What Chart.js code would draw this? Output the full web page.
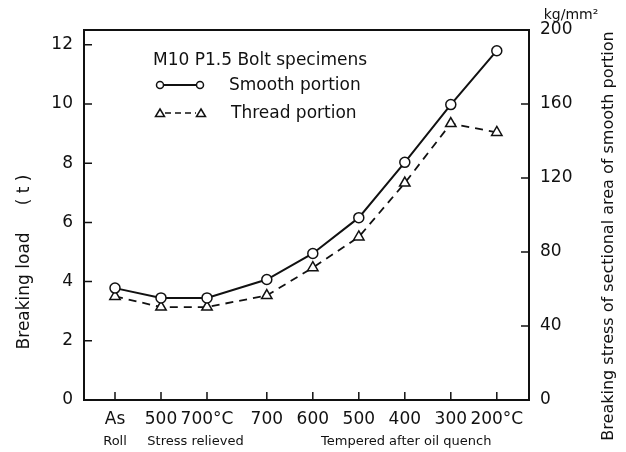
<!DOCTYPE html>
<html>
<head>
<meta charset="utf-8">
<script src="https://cdn.jsdelivr.net/npm/chart.js@4.4.1/dist/chart.umd.min.js"></script>
<style>
    html, body { margin: 0; padding: 0; background: #fff; }
    #wrap { width: 626px; height: 452px; position: relative; }
</style>
</head>
<body>
<div id="wrap"><canvas id="bolt-chart"></canvas></div>
<script>
"use strict";

// ─── Data ────────────────────────────────────────────────────────────────────

const CATEGORIES  = ['As', '500', '700°C', '700', '600', '500', '400', '300', '200°C'];
const X_POSITIONS = [0, 1, 2, 3.3, 4.3, 5.3, 6.3, 7.3, 8.3];   // wider gap between groups
const SMOOTH      = [3.78, 3.45, 3.45, 4.07, 4.95, 6.16, 8.03, 9.98, 11.8];
const THREAD      = [3.50, 3.14, 3.14, 3.53, 4.47, 5.51, 7.33, 9.34, 9.04];
const LOAD_TICKS   = [0, 2, 4, 6, 8, 10, 12];
const STRESS_TICKS = [0, 40, 80, 120, 160, 200];

const GROUPS = [
    { text: 'Roll',                      at: 0    },
    { text: 'Stress relieved',           at: 1.75 },
    { text: 'Tempered after oil quench', at: 6.33 }
];

const FONT = '"DejaVu Sans", sans-serif';
const INK  = '#111';

// ─── Helpers ─────────────────────────────────────────────────────────────────

function _points(ys) {
    return ys.map(function(y, i) { return { x: X_POSITIONS[i], y: y }; });
}

function _fixedTicks(values) {
    return function(scale) {
        scale.ticks = values.map(function(v) { return { value: v }; });
    };
}

// frame, inward ticks, titles and the hand-drawn legend
const decorPlugin = {
    id: 'decor',
    afterDraw: function(chart) {
        var ctx = chart.ctx;
        var a   = chart.chartArea;
        var sx  = chart.scales.x, sy = chart.scales.y, sy1 = chart.scales.y1;

        ctx.save();
        ctx.strokeStyle = INK;
        ctx.lineWidth = 2;
        ctx.strokeRect(a.left, a.top, a.right - a.left, a.bottom - a.top);

        ctx.lineWidth = 1.5;
        ctx.beginPath();
        X_POSITIONS.forEach(function(v) {
            var px = sx.getPixelForValue(v);
            ctx.moveTo(px, a.bottom); ctx.lineTo(px, a.bottom - 8);
        });
        LOAD_TICKS.forEach(function(v) {
            var py = sy.getPixelForValue(v);
            ctx.moveTo(a.left, py); ctx.lineTo(a.left + 8, py);
        });
        STRESS_TICKS.forEach(function(v) {
            var py = sy1.getPixelForValue(v);
            ctx.moveTo(a.right, py); ctx.lineTo(a.right - 8, py);
        });
        ctx.stroke();

        ctx.fillStyle = INK;
        ctx.textAlign = 'center';
        ctx.textBaseline = 'middle';

        // group captions under the x labels
        ctx.font = '13px ' + FONT;
        GROUPS.forEach(function(g) {
            ctx.fillText(g.text, sx.getPixelForValue(g.at), 442);
        });

        // unit above right axis
        ctx.font = '14px ' + FONT;
        ctx.fillText('kg/mm²', 571, 15);

        // axis titles
        ctx.save();
        ctx.translate(25, 262);
        ctx.rotate(-Math.PI / 2);
        ctx.font = '17px ' + FONT;
        ctx.fillText('Breaking load     ( t )', 0, 0);
        ctx.restore();

        ctx.save();
        ctx.translate(609, 236);
        ctx.rotate(-Math.PI / 2);
        ctx.font = '16px ' + FONT;
        ctx.fillText('Breaking stress of sectional area of smooth portion', 0, 0);
        ctx.restore();

        // legend
        ctx.textAlign = 'left';
        ctx.font = '17px ' + FONT;
        ctx.fillText('M10 P1.5 Bolt specimens', 153, 61);
        ctx.fillText('Smooth portion', 229, 86);
        ctx.fillText('Thread portion', 231, 114);

        ctx.lineWidth = 2;
        ctx.beginPath(); ctx.moveTo(160, 85); ctx.lineTo(197, 85); ctx.stroke();
        ctx.lineWidth = 1.5;
        [160, 200].forEach(function(x) {
            ctx.beginPath(); ctx.arc(x, 85, 3.5, 0, Math.PI * 2);
            ctx.fillStyle = '#fff'; ctx.fill(); ctx.stroke();
        });
        ctx.setLineDash([6, 4]);
        ctx.beginPath(); ctx.moveTo(165, 113); ctx.lineTo(196, 113); ctx.stroke();
        ctx.setLineDash([]);
        [160, 201].forEach(function(x) {
            ctx.beginPath();
            ctx.moveTo(x, 109); ctx.lineTo(x + 4.5, 116.5); ctx.lineTo(x - 4.5, 116.5);
            ctx.closePath();
            ctx.fillStyle = '#fff'; ctx.fill(); ctx.stroke();
        });
        ctx.restore();
    }
};

// ─── Chart ───────────────────────────────────────────────────────────────────

new Chart(document.getElementById('bolt-chart'), {
    type: 'line',
    data: {
        datasets: [
            {
                label: 'Smooth portion',
                data: _points(SMOOTH),
                borderColor: INK,
                borderWidth: 2,
                pointStyle: 'circle',
                pointRadius: 5,
                pointBorderWidth: 1.5,
                pointBackgroundColor: '#fff',
                pointBorderColor: INK,
                yAxisID: 'y'
            },
            {
                label: 'Thread portion',
                data: _points(THREAD),
                borderColor: INK,
                borderWidth: 1.8,
                borderDash: [8, 6],
                pointStyle: 'triangle',
                pointRadius: 6,
                pointBorderWidth: 1.5,
                pointBackgroundColor: '#fff',
                pointBorderColor: INK,
                yAxisID: 'y'
            }
        ]
    },
    options: {
        responsive: true,
        maintainAspectRatio: false,
        animation: false,
        layout: { padding: { top: 30, left: 0, right: 0, bottom: 0 } },
        plugins: { legend: { display: false }, tooltip: { enabled: false } },
        scales: {
            x: {
                type: 'linear',
                min: -0.674,
                max: 9.0,
                afterBuildTicks: _fixedTicks(X_POSITIONS),
                afterFit: function(s) { s.height = 52; },
                grid: { display: false, drawTicks: false },
                border: { display: false },
                ticks: {
                    padding: 9,
                    color: INK,
                    font: { family: FONT, size: 17 },
                    maxRotation: 0,
                    autoSkip: false,
                    callback: function(v, i) { return CATEGORIES[i]; }
                }
            },
            y: {
                position: 'left',
                min: 0,
                max: 12.5,
                afterBuildTicks: _fixedTicks(LOAD_TICKS),
                afterFit: function(s) { s.width = 84; },
                grid: { display: false, drawTicks: false },
                border: { display: false },
                ticks: { padding: 11, color: INK, font: { family: FONT, size: 17 } }
            },
            y1: {
                position: 'right',
                min: 0,
                max: 200,
                afterBuildTicks: _fixedTicks(STRESS_TICKS),
                afterFit: function(s) { s.width = 97; },
                grid: { display: false, drawTicks: false },
                border: { display: false },
                ticks: { padding: 11, color: INK, font: { family: FONT, size: 17 } }
            }
        }
    },
    plugins: [decorPlugin]
});
</script>
</body>
</html>
